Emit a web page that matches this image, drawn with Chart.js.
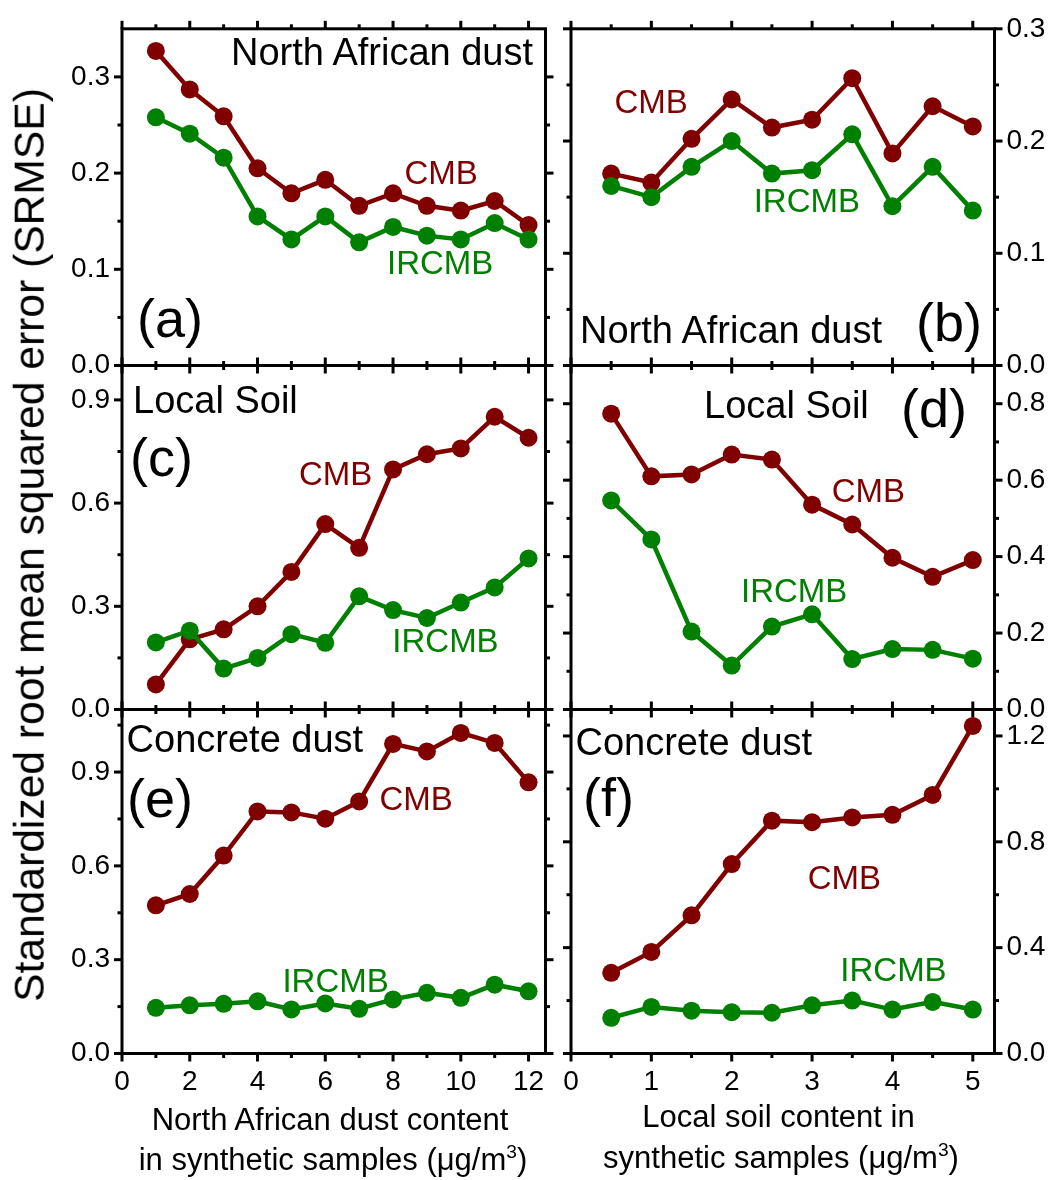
<!DOCTYPE html>
<html>
<head>
<meta charset="utf-8">
<script src="https://cdn.jsdelivr.net/npm/chart.js@4.4.0/dist/chart.umd.min.js"></script>
<style>
html,body{margin:0;padding:0;background:#fff;}
#wrap{position:relative;width:1051px;height:1180px;overflow:hidden;font-family:"Liberation Sans",Arial,sans-serif;color:#000;}
#wrap canvas{position:absolute;left:0;top:0;}
.t{position:absolute;white-space:nowrap;line-height:1;}
sup{font-size:0.62em;line-height:0;vertical-align:0.62em;}
</style>
</head>
<body>
<div id="wrap"></div>
<script>
// ---------------- data ----------------
const xNorthAfrican = [1, 2, 3, 4, 5, 6, 7, 8, 9, 10, 11, 12];
const xLocalSoil = [0.5, 1, 1.5, 2, 2.5, 3, 3.5, 4, 4.5, 5];

// (a) North African dust source, varying North African dust content
const cmbA   = [0.327, 0.287, 0.259, 0.205, 0.179, 0.193, 0.166, 0.179, 0.166, 0.161, 0.171, 0.146];
const ircmbA = [0.258, 0.241, 0.216, 0.155, 0.131, 0.155, 0.128, 0.144, 0.135, 0.131, 0.148, 0.131];
// (b) North African dust source, varying local soil content
const cmbB   = [0.171, 0.163, 0.202, 0.237, 0.212, 0.219, 0.256, 0.189, 0.231, 0.213];
const ircmbB = [0.160, 0.150, 0.177, 0.200, 0.171, 0.174, 0.206, 0.142, 0.177, 0.138];
// (c) Local soil source
const cmbC   = [0.073, 0.204, 0.233, 0.300, 0.400, 0.539, 0.470, 0.698, 0.742, 0.759, 0.851, 0.790];
const ircmbC = [0.195, 0.229, 0.119, 0.150, 0.219, 0.194, 0.329, 0.289, 0.266, 0.311, 0.355, 0.439];
// (d) Local soil source
const cmbD   = [0.774, 0.610, 0.615, 0.667, 0.654, 0.536, 0.484, 0.397, 0.347, 0.391];
const ircmbD = [0.547, 0.445, 0.204, 0.115, 0.217, 0.249, 0.132, 0.158, 0.156, 0.133];
// (e) Concrete dust source
const cmbE   = [0.474, 0.510, 0.633, 0.774, 0.771, 0.751, 0.806, 0.990, 0.966, 1.025, 0.993, 0.867];
const ircmbE = [0.146, 0.154, 0.159, 0.167, 0.141, 0.160, 0.143, 0.173, 0.194, 0.178, 0.220, 0.199];
// (f) Concrete dust source
const cmbF   = [0.305, 0.384, 0.522, 0.716, 0.880, 0.874, 0.892, 0.902, 0.977, 1.238];
const ircmbF = [0.135, 0.176, 0.162, 0.156, 0.154, 0.182, 0.200, 0.166, 0.195, 0.166];

// tick values
const xTicksNA = [0, 2, 4, 6, 8, 10, 12];
const xMinorNA = [1, 3, 5, 7, 9, 11];
const xTicksLS = [0, 1, 2, 3, 4, 5];
const xMinorLS = [0.5, 1.5, 2.5, 3.5, 4.5];
const yTicksA = [0, 0.1, 0.2, 0.3];        const yMinorA = [0.05, 0.15, 0.25];
const yTicksB = [0, 0.1, 0.2, 0.3];        const yMinorB = [0.05, 0.15, 0.25];
const yTicksC = [0, 0.3, 0.6, 0.9];        const yMinorC = [0.15, 0.45, 0.75];
const yTicksD = [0, 0.2, 0.4, 0.6, 0.8];   const yMinorD = [0.1, 0.3, 0.5, 0.7];
const yTicksE = [0, 0.3, 0.6, 0.9];        const yMinorE = [0.15, 0.45, 0.75, 1.05];
const yTicksF = [0, 0.4, 0.8, 1.2];        const yMinorF = [0.2, 0.6, 1.0];

// ---------------- layout / style ----------------
const W = 1051, H = 1180;
const FONT = '"Liberation Sans", Arial, sans-serif';
const RED = '#800000', GREEN = '#008000';
const COL_L = [122, 545.5], COL_R = [571, 994.5];
const ROWS = [22, 365.5, 709.5, 1053.5];
const TICK_FONT = 28;
Chart.defaults.font.family = FONT;
Chart.defaults.color = '#000';

const panels = [
  {x: xNorthAfrican, cmb: cmbA, ir: ircmbA, xMax: 12.5, yMax: 0.35, xt: xTicksNA, xm: xMinorNA, yt: yTicksA, ym: yMinorA, col: 0, row: 0, showX: false},
  {x: xLocalSoil,    cmb: cmbB, ir: ircmbB, xMax: 5.27, yMax: 0.30, xt: xTicksLS, xm: xMinorLS, yt: yTicksB, ym: yMinorB, col: 1, row: 0, showX: false},
  {x: xNorthAfrican, cmb: cmbC, ir: ircmbC, xMax: 12.5, yMax: 1.0,  xt: xTicksNA, xm: xMinorNA, yt: yTicksC, ym: yMinorC, col: 0, row: 1, showX: false},
  {x: xLocalSoil,    cmb: cmbD, ir: ircmbD, xMax: 5.27, yMax: 0.9,  xt: xTicksLS, xm: xMinorLS, yt: yTicksD, ym: yMinorD, col: 1, row: 1, showX: false},
  {x: xNorthAfrican, cmb: cmbE, ir: ircmbE, xMax: 12.5, yMax: 1.1,  xt: xTicksNA, xm: xMinorNA, yt: yTicksE, ym: yMinorE, col: 0, row: 2, showX: true},
  {x: xLocalSoil,    cmb: cmbF, ir: ircmbF, xMax: 5.27, yMax: 1.3,  xt: xTicksLS, xm: xMinorLS, yt: yTicksF, ym: yMinorF, col: 1, row: 2, showX: true}
];

const MAJ = 8, MIN = 4.5;
function frameTicks(p) {
  return {
    id: 'frameTicks',
    beforeDatasetsDraw(chart) {
      const ctx = chart.ctx;
      const {left, right, top, bottom} = chart.chartArea;
      const xs = chart.scales.x, ys = chart.scales.y;
      ctx.save();
      ctx.strokeStyle = '#000';
      ctx.lineWidth = 3;
      ctx.lineCap = 'butt';
      ctx.lineJoin = 'miter';
      const seg = (x1, y1, x2, y2) => { ctx.beginPath(); ctx.moveTo(x1, y1); ctx.lineTo(x2, y2); ctx.stroke(); };
      p.xt.forEach(v => { const px = xs.getPixelForValue(v); seg(px, bottom, px, bottom + MAJ); seg(px, top, px, top - MAJ); });
      p.xm.forEach(v => { const px = xs.getPixelForValue(v); seg(px, bottom, px, bottom + MIN); seg(px, top, px, top - MIN); });
      p.yt.forEach(v => { const py = ys.getPixelForValue(v); seg(left, py, left - MAJ, py); seg(right, py, right + MAJ, py); });
      p.ym.forEach(v => { const py = ys.getPixelForValue(v); seg(left, py, left - MIN, py); seg(right, py, right + MIN, py); });
      ctx.strokeRect(left, top, right - left, bottom - top);
      ctx.restore();
    }
  };
}

const wrap = document.getElementById('wrap');
function ds(label, xs, ys, color, order) {
  return {
    label, order, clip: false,
    data: xs.map((v, i) => ({x: v, y: ys[i]})),
    borderColor: color, backgroundColor: color,
    pointBackgroundColor: color, pointBorderColor: color,
    pointBorderWidth: 0, pointRadius: 9, pointHoverRadius: 9,
    borderWidth: 4.5, tension: 0
  };
}

panels.forEach(p => {
  const c = document.createElement('canvas');
  c.width = W; c.height = H;
  c.style.width = W + 'px'; c.style.height = H + 'px';
  wrap.appendChild(c);
  const [L, R] = p.col === 0 ? COL_L : COL_R;
  const T = ROWS[p.row], B = ROWS[p.row + 1];
  const AXW = 60, AXH = 45;
  const pad = p.col === 0
    ? {left: L - AXW, right: W - R, top: T, bottom: H - B - AXH}
    : {left: L, right: W - R - AXW, top: T, bottom: H - B - AXH};
  new Chart(c, {
    type: 'line',
    data: {datasets: [ds('IRCMB', p.x, p.ir, GREEN, 0), ds('CMB', p.x, p.cmb, RED, 1)]},
    options: {
      responsive: false, animation: false, devicePixelRatio: 1,
      layout: {padding: pad},
      plugins: {legend: {display: false}, tooltip: {enabled: false}, title: {display: false}},
      events: [],
      scales: {
        x: {
          type: 'linear', position: 'bottom', min: 0, max: p.xMax,
          grid: {display: false, drawTicks: false, tickLength: 0},
          border: {display: false},
          afterBuildTicks: s => { s.ticks = p.xt.map(v => ({value: v})); },
          afterFit: s => { s.height = AXH; },
          ticks: {display: p.showX, autoSkip: false, maxRotation: 0, minRotation: 0, padding: 12,
                  color: '#000', font: {family: FONT, size: TICK_FONT}, callback: v => String(v)}
        },
        y: {
          type: 'linear', position: p.col === 0 ? 'left' : 'right', min: 0, max: p.yMax,
          grid: {display: false, drawTicks: false, tickLength: 0},
          border: {display: false},
          afterBuildTicks: s => { s.ticks = p.yt.map(v => ({value: v})); },
          afterFit: s => { s.width = AXW; },
          ticks: {autoSkip: false, padding: 12, color: '#000', font: {family: FONT, size: TICK_FONT},
                  callback: v => Number(v).toFixed(1)}
        }
      }
    },
    plugins: [frameTicks(p)]
  });
});

// ---------------- text ----------------
function addText(html, left, baseline, size, color) {
  const d = document.createElement('div');
  d.className = 't';
  d.innerHTML = html;
  d.style.left = left + 'px';
  d.style.top = (baseline - 0.8465 * size) + 'px';
  d.style.fontSize = size + 'px';
  d.style.color = color || '#000';
  wrap.appendChild(d);
  return d;
}
const SRC = 38, LAB = 33, PAN = 54;
// (a)
addText('North African dust', 231, 65, SRC);
addText('CMB', 404.5, 183.5, LAB, RED);
addText('IRCMB', 387, 273.5, LAB, GREEN);
addText('(a)', 137, 337, PAN);
// (b)
addText('CMB', 614.5, 113.3, LAB, RED);
addText('IRCMB', 753.7, 212.3, LAB, GREEN);
addText('North African dust', 580, 343.3, SRC);
addText('(b)', 916, 340.4, PAN);
// (c)
addText('Local Soil', 133, 413.3, SRC);
addText('(c)', 130, 475.4, PAN);
addText('CMB', 298.9, 485, LAB, RED);
addText('IRCMB', 392.3, 651.7, LAB, GREEN);
// (d)
addText('Local Soil', 704, 418.3, SRC);
addText('(d)', 901, 427, PAN);
addText('CMB', 831.7, 501.7, LAB, RED);
addText('IRCMB', 741, 602.3, LAB, GREEN);
// (e)
addText('Concrete dust', 126.6, 752.5, SRC);
addText('(e)', 127, 817, PAN);
addText('CMB', 379.4, 810, LAB, RED);
addText('IRCMB', 282.4, 992.3, LAB, GREEN);
// (f)
addText('Concrete dust', 575.5, 755.5, SRC);
addText('(f)', 583, 815.4, PAN);
addText('CMB', 807.7, 889, LAB, RED);
addText('IRCMB', 840.3, 981, LAB, GREEN);

// axis titles
function centerText(html, cx, baseline, size) {
  const d = addText(html, cx - 300, baseline, size);
  d.style.width = '600px';
  d.style.textAlign = 'center';
}
centerText('North African dust content', 330, 1130, 31);
centerText('in synthetic samples (μg/m<sup>3</sup>)', 333, 1170, 31);
centerText('Local soil content in', 778.5, 1127, 31);
centerText('synthetic samples (μg/m<sup>3</sup>)', 781, 1168.5, 31);

const yt = document.createElement('div');
yt.className = 't';
yt.textContent = 'Standardized root mean squared error (SRMSE)';
yt.style.fontSize = '42.6px';
yt.style.left = '29px';
yt.style.top = '545px';
yt.style.transform = 'translate(-50%,-50%) rotate(-90deg)';
wrap.appendChild(yt);
</script>
</body>
</html>
